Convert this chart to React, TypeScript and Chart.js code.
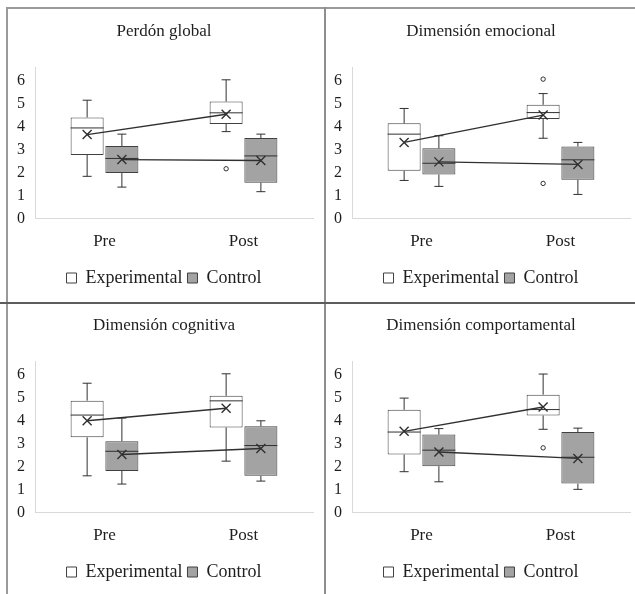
import React, { useEffect, useRef } from 'react';
import { Chart, registerables } from 'chart.js';

Chart.register(...registerables);

const CATEGORIES = ['Pre', 'Post'];
const GROUPS = ['Experimental', 'Control'];
const Y_TICKS = [0, 1, 2, 3, 4, 5, 6];
const TITLES = ['Perdón global', 'Dimensión emocional', 'Dimensión cognitiva', 'Dimensión comportamental'];

// Each row (Pre, Post): [min, q1, median, q3, max, mean]
const GLOBAL_EXP = [[1.84, 2.77, 3.95, 4.41, 5.16, 3.66], [3.79, 4.12, 4.61, 5.1, 6.05, 4.55]];
const GLOBAL_CTRL = [[1.37, 1.98, 2.62, 3.16, 3.68, 2.57], [1.17, 1.56, 2.73, 3.51, 3.68, 2.53]];
const GLOBAL_EXP_OUT = [[], [2.17]];
const GLOBAL_CTRL_OUT = [[], []];

const EMO_EXP = [[1.66, 2.08, 3.68, 4.15, 4.8, 3.32], [3.5, 4.34, 4.62, 4.96, 5.45, 4.51]];
const EMO_CTRL = [[1.4, 1.92, 2.41, 3.06, 3.61, 2.47], [1.05, 1.69, 2.56, 3.14, 3.32, 2.36]];
const EMO_EXP_OUT = [[], [6.08, 1.53]];
const EMO_CTRL_OUT = [[], []];

const COG_EXP = [[1.6, 3.28, 4.25, 4.88, 5.64, 4.0], [2.24, 3.71, 4.87, 5.09, 6.05, 4.55]];
const COG_CTRL = [[1.24, 1.81, 2.67, 3.11, 4.12, 2.53], [1.37, 1.6, 2.92, 3.76, 4.0, 2.79]];
const COG_EXP_OUT = [[], []];
const COG_CTRL_OUT = [[], []];

const BEH_EXP = [[1.78, 2.53, 3.51, 4.48, 4.99, 3.54], [3.63, 4.23, 4.49, 5.14, 6.04, 4.6]];
const BEH_CTRL = [[1.34, 2.02, 2.72, 3.4, 3.66, 2.64], [1.01, 1.26, 2.41, 3.51, 3.68, 2.36]];
const BEH_EXP_OUT = [[], [2.82]];
const BEH_CTRL_OUT = [[], []];

const FONT = "'Liberation Serif', 'Times New Roman', serif";
const TEXT = '#1e1e1e';
const LINE = '#303030';
const AXIS = '#d9d9d9';

const boxExtras = {
  id: 'boxExtras',
  afterDatasetsDraw(chart: any) {
    const { ctx } = chart;
    const y = chart.scales.y;
    ctx.save();
    ctx.strokeStyle = LINE;
    ctx.lineWidth = 1;
    chart.data.datasets.forEach((ds: any, di: number) => {
      const meta = chart.getDatasetMeta(di);
      const pts: [number, number][] = [];
      meta.data.forEach((el: any, i: number) => {
        const { x, width } = el.getProps(['x', 'width'], true);
        const [mn, q1, med, q3, mx, mean] = ds.stats[i];
        const cap = 4.5;
        ctx.lineWidth = 1;
        ctx.beginPath();
        ctx.moveTo(x, y.getPixelForValue(q3));
        ctx.lineTo(x, y.getPixelForValue(mx));
        ctx.moveTo(x - cap, y.getPixelForValue(mx));
        ctx.lineTo(x + cap, y.getPixelForValue(mx));
        ctx.moveTo(x, y.getPixelForValue(q1));
        ctx.lineTo(x, y.getPixelForValue(mn));
        ctx.moveTo(x - cap, y.getPixelForValue(mn));
        ctx.lineTo(x + cap, y.getPixelForValue(mn));
        ctx.moveTo(x - width / 2, y.getPixelForValue(med));
        ctx.lineTo(x + width / 2, y.getPixelForValue(med));
        ctx.stroke();
        pts.push([x, y.getPixelForValue(mean)]);
        (ds.outliers[i] || []).forEach((v: number) => {
          ctx.beginPath();
          ctx.arc(x, y.getPixelForValue(v), 2.2, 0, Math.PI * 2);
          ctx.fillStyle = '#ffffff';
          ctx.fill();
          ctx.stroke();
        });
      });
      ctx.beginPath();
      pts.forEach(([px, py], k) => (k === 0 ? ctx.moveTo(px, py) : ctx.lineTo(px, py)));
      ctx.lineWidth = 1.4;
      ctx.stroke();
      pts.forEach(([px, py]) => {
        const r = 4.5;
        ctx.beginPath();
        ctx.moveTo(px - r, py - r);
        ctx.lineTo(px + r, py + r);
        ctx.moveTo(px - r, py + r);
        ctx.lineTo(px + r, py - r);
        ctx.stroke();
      });
    });
    ctx.restore();
  },
};

type PanelProps = {
  title: string;
  exp: number[][];
  ctrl: number[][];
  expOut: number[][];
  ctrlOut: number[][];
  left: number;
  top: number;
};

function Panel({ title, exp, ctrl, expOut, ctrlOut, left, top }: PanelProps) {
  const ref = useRef<HTMLCanvasElement | null>(null);
  useEffect(() => {
    if (!ref.current) return;
    const chart = new Chart(ref.current, {
      type: 'bar',
      data: {
        labels: CATEGORIES,
        datasets: [
          {
            label: GROUPS[0],
            data: exp.map((r) => [r[1], r[3]]),
            stats: exp,
            outliers: expOut,
            backgroundColor: '#ffffff',
            borderColor: '#404040',
            borderWidth: 1,
            borderSkipped: false,
            categoryPercentage: 0.5,
            barPercentage: 0.95,
          } as any,
          {
            label: GROUPS[1],
            data: ctrl.map((r) => [r[1], r[3]]),
            stats: ctrl,
            outliers: ctrlOut,
            backgroundColor: '#a3a3a3',
            borderColor: '#404040',
            borderWidth: 1,
            borderSkipped: false,
            categoryPercentage: 0.5,
            barPercentage: 0.95,
          } as any,
        ],
      },
      options: {
        responsive: false,
        animation: false,
        events: [],
        layout: { padding: { left: 7, right: 5, top: 0, bottom: 5 } },
        plugins: {
          title: {
            display: true,
            text: title,
            color: TEXT,
            font: { family: FONT, size: 17, weight: 'normal' },
            padding: { top: 9, bottom: 25.8 },
          },
          legend: {
            position: 'bottom',
            labels: {
              boxWidth: 10,
              boxHeight: 10,
              padding: 5,
              color: TEXT,
              font: { family: FONT, size: 18 },
            },
          },
          tooltip: { enabled: false },
        },
        scales: {
          x: {
            grid: { display: true, drawOnChartArea: false, drawTicks: false },
            border: { display: true, color: AXIS, width: 1 },
            ticks: { color: TEXT, font: { family: FONT, size: 17 }, padding: 12.8 },
            afterFit: (s: any) => {
              s.height = 45.5;
            },
          },
          y: {
            min: 0,
            max: 6.6,
            grid: { display: true, drawOnChartArea: false, drawTicks: false },
            border: { display: true, color: AXIS, width: 1 },
            ticks: { color: TEXT, font: { family: FONT, size: 16 }, padding: 10 },
            afterBuildTicks: (s: any) => {
              s.ticks = Y_TICKS.map((v) => ({ value: v }));
            },
            afterFit: (s: any) => {
              s.width = 20;
            },
          },
        },
      } as any,
      plugins: [boxExtras],
    });
    return () => chart.destroy();
  }, [title, exp, ctrl, expOut, ctrlOut]);
  return (
    <canvas
      ref={ref}
      width={310}
      height={290}
      style={{ position: 'absolute', left, top, width: 310, height: 290 }}
    />
  );
}

export default function App() {
  return (
    <div
      style={{
        position: 'absolute',
        left: 0,
        top: 0,
        width: 635,
        height: 594,
        background: '#ffffff',
        overflow: 'hidden',
      }}
    >
      <div style={{ position: 'absolute', left: 7, top: 7, width: 628, height: 2, background: '#9a9a9a' }} />
      <div style={{ position: 'absolute', left: 6, top: 7, width: 2, height: 587, background: '#9a9a9a' }} />
      <div style={{ position: 'absolute', left: 324, top: 7, width: 2, height: 587, background: '#8e8e8e' }} />
      <div style={{ position: 'absolute', left: 0, top: 302, width: 635, height: 2, background: '#5c5c5c' }} />
      <Panel title={TITLES[0]} exp={GLOBAL_EXP} ctrl={GLOBAL_CTRL} expOut={GLOBAL_EXP_OUT} ctrlOut={GLOBAL_CTRL_OUT} left={8} top={12} />
      <Panel title={TITLES[1]} exp={EMO_EXP} ctrl={EMO_CTRL} expOut={EMO_EXP_OUT} ctrlOut={EMO_CTRL_OUT} left={325} top={12} />
      <Panel title={TITLES[2]} exp={COG_EXP} ctrl={COG_CTRL} expOut={COG_EXP_OUT} ctrlOut={COG_CTRL_OUT} left={8} top={306} />
      <Panel title={TITLES[3]} exp={BEH_EXP} ctrl={BEH_CTRL} expOut={BEH_EXP_OUT} ctrlOut={BEH_CTRL_OUT} left={325} top={306} />
    </div>
  );
}
